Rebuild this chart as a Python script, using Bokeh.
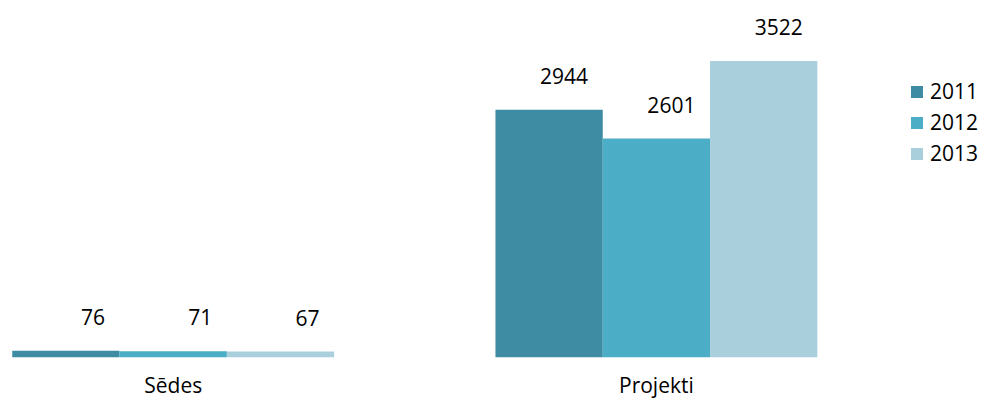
from bokeh.plotting import figure
from bokeh.models import ColumnDataSource, Range1d, Legend, LegendItem
from bokeh.core.properties import value
from bokeh.embed import file_html
from bokeh.resources import INLINE

categories = ["Sēdes", "Projekti"]
years = ["2011", "2012", "2013"]
values_2011 = [76, 2944]
values_2012 = [71, 2601]
values_2013 = [67, 3522]
colors = ["#3E8CA3", "#4BADC6", "#A9CFDD"]

series = [values_2011, values_2012, values_2013]
FONT = "Open Sans"
FS = "21px"
W, H = 986, 400

UNIT = 483.2          # px between category centres
FIRST = 172.7         # px of first category centre
BASE = 356.7          # px of baseline from top
PPU = 296.1 / 3522.0  # px per value unit

p = figure(width=W, height=H, output_backend="svg", toolbar_location=None,
           min_border=0, min_border_left=0, min_border_right=0,
           min_border_top=0, min_border_bottom=0)
x0 = -FIRST / UNIT
p.x_range = Range1d(x0, x0 + W / UNIT)
p.y_range = Range1d(-(H - BASE) / PPU, BASE / PPU)
p.axis.visible = False
p.xgrid.visible = False
p.ygrid.visible = False
p.outline_line_color = None
p.background_fill_color = "white"
p.border_fill_color = "white"

bar_w = 107.3 / UNIT
offsets = [-bar_w, 0.0, bar_w]
cat_idx = list(range(len(categories)))

items = []
for yr, vals, col, off in zip(years, series, colors, offsets):
    src = ColumnDataSource(dict(x=[i + off for i in cat_idx], top=vals,
                                lbl=[str(v) for v in vals]))
    r = p.vbar(x="x", top="top", bottom=0, width=bar_w, source=src,
               fill_color=col, line_color=None)
    items.append(LegendItem(label=yr, renderers=[r]))
    p.text(x="x", y="top", text="lbl", source=src, text_align="right",
           text_baseline="middle", x_offset=39, y_offset=-34,
           text_font=value(FONT), text_font_size=FS, text_color="#000000")

csrc = ColumnDataSource(dict(x=cat_idx, y=[0] * len(categories), t=categories))
p.text(x="x", y="y", text="t", source=csrc, text_align="center",
       text_baseline="middle", y_offset=28,
       text_font=value(FONT), text_font_size=FS, text_color="#000000")

legend = Legend(items=items, location=(909, 233), orientation="vertical",
                border_line_color=None, background_fill_alpha=0,
                padding=0, margin=0, spacing=3,
                glyph_width=15, glyph_height=15, label_standoff=6,
                label_text_font=FONT, label_text_font_size=FS,
                label_text_color="#000000")
p.add_layout(legend, "center")

open("out.html", "w").write(file_html(p, INLINE))
